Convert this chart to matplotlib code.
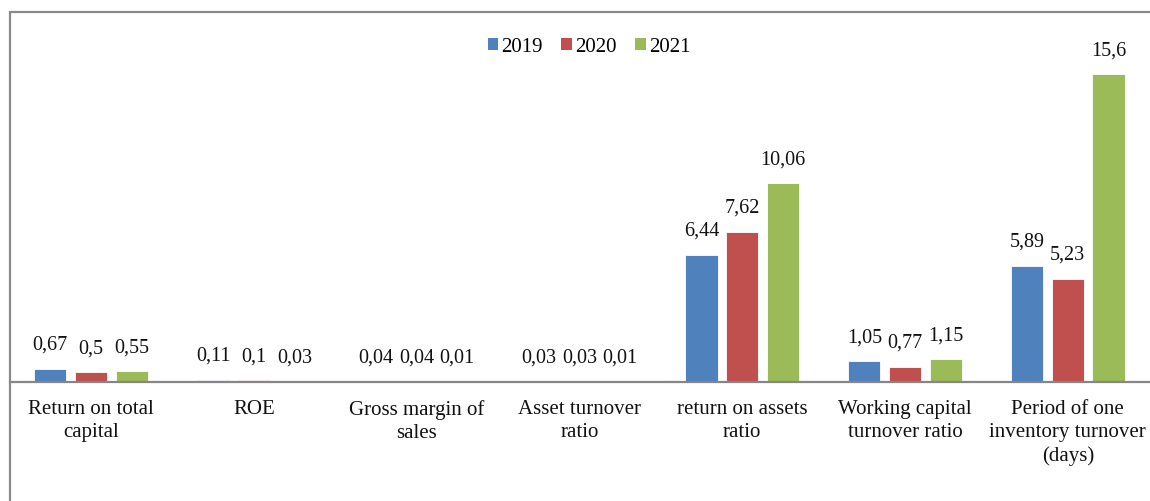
import matplotlib
matplotlib.use("Agg")
import matplotlib.pyplot as plt
from matplotlib.patches import Rectangle
import numpy as np

categories = [
    "Return on total\ncapital",
    "ROE",
    "Gross margin of\nsales",
    "Asset turnover\nratio",
    "return on assets\nratio",
    "Working capital\nturnover ratio",
    "Period of one\ninventory turnover\n(days)",
]
years = ["2019", "2020", "2021"]
values_2019 = [0.67, 0.11, 0.04, 0.03, 6.44, 1.05, 5.89]
values_2020 = [0.5, 0.1, 0.04, 0.03, 7.62, 0.77, 5.23]
values_2021 = [0.55, 0.03, 0.01, 0.01, 10.06, 1.15, 15.6]
series = [values_2019, values_2020, values_2021]
colors = ["#4F81BD", "#C0504D", "#9BBB59"]

plt.rcParams["font.family"] = ["Liberation Serif", "DejaVu Serif"]

W, H = 1150, 501
fig = plt.figure(figsize=(W / 100, H / 100), dpi=100)

# plot area in pixel terms
left_px, right_px = 9.6, 1149.2
base_px = 382
px_per_unit = 19.74
ymax = 17.0
ax = fig.add_axes([left_px / W, (H - base_px) / H,
                   (right_px - left_px) / W, ymax * px_per_unit / H])

x = np.arange(len(categories))
step = 0.25
width = 0.197
for i, (vals, col, yr) in enumerate(zip(series, colors, years)):
    pos = x + (i - 1) * step
    ax.bar(pos, vals, width=width, color=col, edgecolor="white",
           linewidth=0.6, label=yr, zorder=2)
    for xp, v in zip(pos, vals):
        label = f"{v:g}".replace(".", ",")
        ax.annotate(label, (xp, v), xytext=(0, 10), textcoords="offset points",
                    ha="center", va="bottom", fontsize=14.5, color="#111111")

ax.set_xlim(-0.5, len(categories) - 0.5)
ax.set_ylim(0, ymax)
ax.set_yticks([])
ax.set_xticks(x)
ax.set_xticklabels(categories, fontsize=15, linespacing=1.3, color="#111111")
ax.tick_params(axis="x", length=0, pad=13)
for s in ["top", "right", "left"]:
    ax.spines[s].set_visible(False)
ax.spines["bottom"].set_color("#868686")
ax.spines["bottom"].set_linewidth(1.6)
ax.patch.set_alpha(0)

leg = fig.legend(loc="center", bbox_to_anchor=(589 / W, (H - 47) / H), ncol=3,
                 frameon=False, fontsize=15, handlelength=0.5, handleheight=0.5,
                 handletextpad=0.15, columnspacing=0.9)
for h in leg.legend_handles:
    h.set_edgecolor("none")

# chart frame
fig.patches.append(Rectangle((9.5 / W, -0.2), 1.2, (H - 11.5) / H + 0.2,
                             transform=fig.transFigure, fill=False,
                             edgecolor="#898989", linewidth=1.6, zorder=0))

fig.savefig("out.png", dpi=100)
